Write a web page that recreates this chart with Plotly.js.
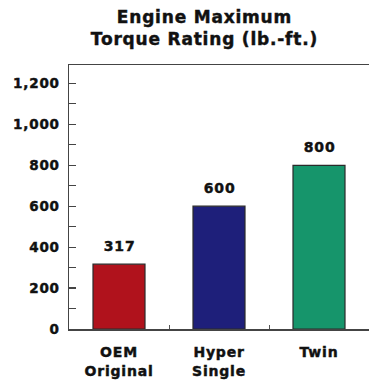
<!DOCTYPE html>
<html>
<head>
<meta charset="utf-8">
<script src="https://cdn.plot.ly/plotly-3.0.1.min.js"></script>
<style>
  html, body { margin: 0; padding: 0; background: #ffffff; }
  #chart { width: 369px; height: 380px; }
  /* wide, heavy lettering */
  #chart svg text { letter-spacing: 0.8px; stroke: #111; stroke-width: 0.45px; }
</style>
</head>
<body>
<div id="chart"></div>
<script>
// Engine maximum torque rating by configuration
const categories = ['OEM<br>Original', 'Hyper<br>Single', 'Twin'];
const torque = [317, 600, 800];
const barColors = ['#b0121c', '#1e1f7a', '#16956b'];
const yTickValues = [0, 200, 400, 600, 800, 1000, 1200];
const yTickLabels = ['0', '200', '400', '600', '800', '1,000', '1,200'];
const chartTitle = 'Engine Maximum<br>Torque Rating (lb.-ft.)';

const heavyFont = 'DejaVu Sans, Liberation Sans, Arial, sans-serif';

const trace = {
  type: 'bar',
  x: categories,
  y: torque,
  width: 0.52,
  marker: { color: barColors, line: { color: '#2a2a2a', width: 1.2 } },
  hoverinfo: 'skip'
};

// value labels sit a little above each bar
const valueLabels = categories.map((c, i) => ({
  x: c, y: torque[i], xref: 'x', yref: 'y',
  text: String(torque[i]),
  showarrow: false,
  yanchor: 'bottom', yshift: 8,
  font: { family: heavyFont, size: 14, color: '#111', weight: 'bold' }
}));

const titleLabel = {
  x: 0.453, y: 1, xref: 'paper', yref: 'paper',
  xanchor: 'center', yanchor: 'bottom', yshift: 14,
  text: chartTitle,
  showarrow: false,
  font: { family: heavyFont, size: 17, color: '#111', weight: 'bold' }
};

const layout = {
  width: 369,
  height: 380,
  margin: { l: 69, r: 0, t: 65, b: 51 },
  paper_bgcolor: '#ffffff',
  plot_bgcolor: '#ffffff',
  showlegend: false,
  annotations: [titleLabel].concat(valueLabels),
  xaxis: {
    type: 'category',
    range: [-0.5, 2.5],
    showline: true,
    linecolor: '#444',
    linewidth: 1.5,
    mirror: true,
    showgrid: false,
    zeroline: false,
    tickson: 'boundaries',
    ticks: 'inside',
    ticklen: 4,
    tickcolor: '#555',
    tickwidth: 1,
    tickfont: { family: heavyFont, size: 14, color: '#111', weight: 'bold' },
    ticklabelstandoff: 10,
    fixedrange: true
  },
  yaxis: {
    range: [0, 1290],
    tickvals: yTickValues,
    ticktext: yTickLabels,
    showline: true,
    linecolor: '#444',
    linewidth: 1.5,
    showgrid: false,
    zeroline: false,
    ticks: 'inside',
    ticklen: 7,
    tickcolor: '#444',
    tickwidth: 1.2,
    minor: { dtick: 100, ticks: 'inside', ticklen: 7, tickcolor: '#444', tickwidth: 1.2, showgrid: false },
    tickfont: { family: heavyFont, size: 13.5, color: '#111', weight: 'bold' },
    ticklabelstandoff: 5,
    fixedrange: true
  }
};

Plotly.newPlot('chart', [trace], layout, { displayModeBar: false, staticPlot: true });
</script>
</body>
</html>
